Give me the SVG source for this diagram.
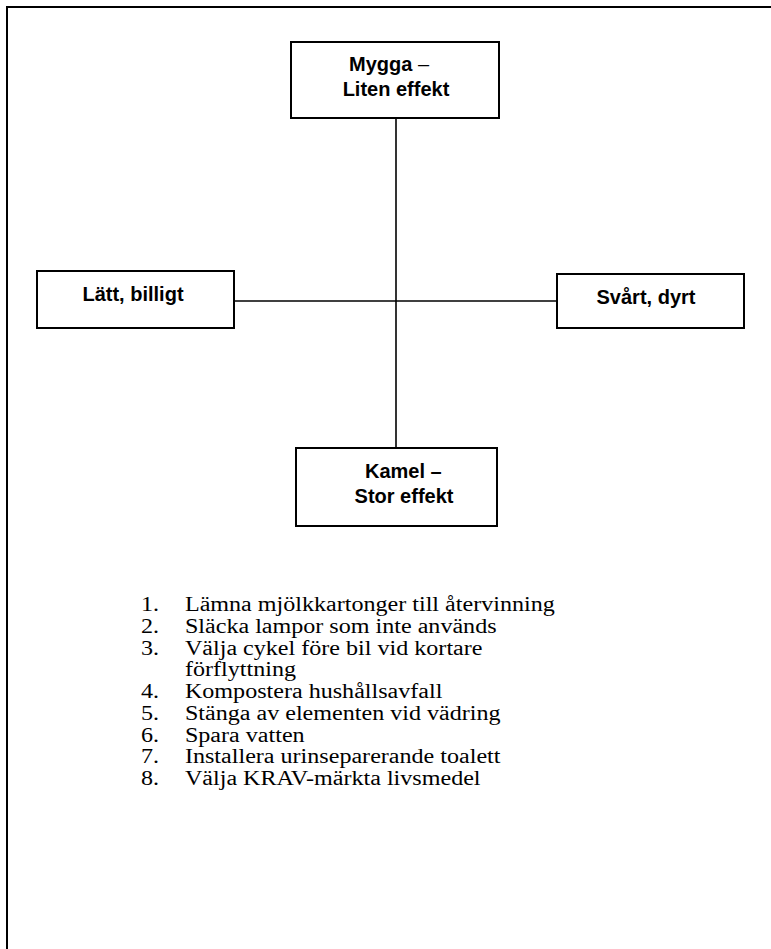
<svg xmlns="http://www.w3.org/2000/svg" width="771" height="949" viewBox="0 0 771 949">
<style>
.box{fill:#fff;stroke:#000;stroke-width:2}
.lbl{font-family:"Liberation Sans",Arial,sans-serif;font-weight:bold;font-size:20px;fill:#000}
.conn{stroke:#000;stroke-width:1.6;fill:none}
.list{font-family:"Liberation Serif","Times New Roman",serif;font-size:20.5px;fill:#000}
</style>
<rect width="771" height="949" fill="#fff"/>
<g id="frame">
<path d="M7 949 V7 H771" fill="none" stroke="#000" stroke-width="2"/>
</g>
<g id="connectors">
<line class="conn" x1="396" y1="118" x2="396" y2="448"/>
<line class="conn" x1="234" y1="301" x2="557" y2="301"/>
</g>
<g id="top">
<rect class="box" x="291" y="42" width="208" height="76"/>
<text class="lbl" x="349" y="71">Mygga <tspan font-weight="normal">–</tspan></text>
<text class="lbl" x="396" y="96" text-anchor="middle">Liten effekt</text>
</g>
<g id="left">
<rect class="box" x="37" y="271" width="197" height="57"/>
<text class="lbl" x="133" y="301" text-anchor="middle">Lätt, billigt</text>
</g>
<g id="right">
<rect class="box" x="557" y="274" width="187" height="54"/>
<text class="lbl" x="646" y="304" text-anchor="middle">Svårt, dyrt</text>
</g>
<g id="bottom">
<rect class="box" x="296" y="448" width="201" height="78"/>
<text class="lbl" x="365" y="478">Kamel –</text>
<text class="lbl" x="404" y="503" text-anchor="middle">Stor effekt</text>
</g>
<g id="list" class="list" transform="translate(141 0) scale(1.175 1)">
<text x="0" y="611">1.</text><text x="37.4" y="611">Lämna mjölkkartonger till återvinning</text>
<text x="0" y="633">2.</text><text x="37.4" y="633">Släcka lampor som inte används</text>
<text x="0" y="655">3.</text><text x="37.4" y="655">Välja cykel före bil vid kortare</text>
<text x="37.4" y="676">förflyttning</text>
<text x="0" y="698">4.</text><text x="37.4" y="698">Kompostera hushållsavfall</text>
<text x="0" y="720">5.</text><text x="37.4" y="720">Stänga av elementen vid vädring</text>
<text x="0" y="742">6.</text><text x="37.4" y="742">Spara vatten</text>
<text x="0" y="763">7.</text><text x="37.4" y="763">Installera urinseparerande toalett</text>
<text x="0" y="785">8.</text><text x="37.4" y="785">Välja KRAV-märkta livsmedel</text>
</g>
</svg>
